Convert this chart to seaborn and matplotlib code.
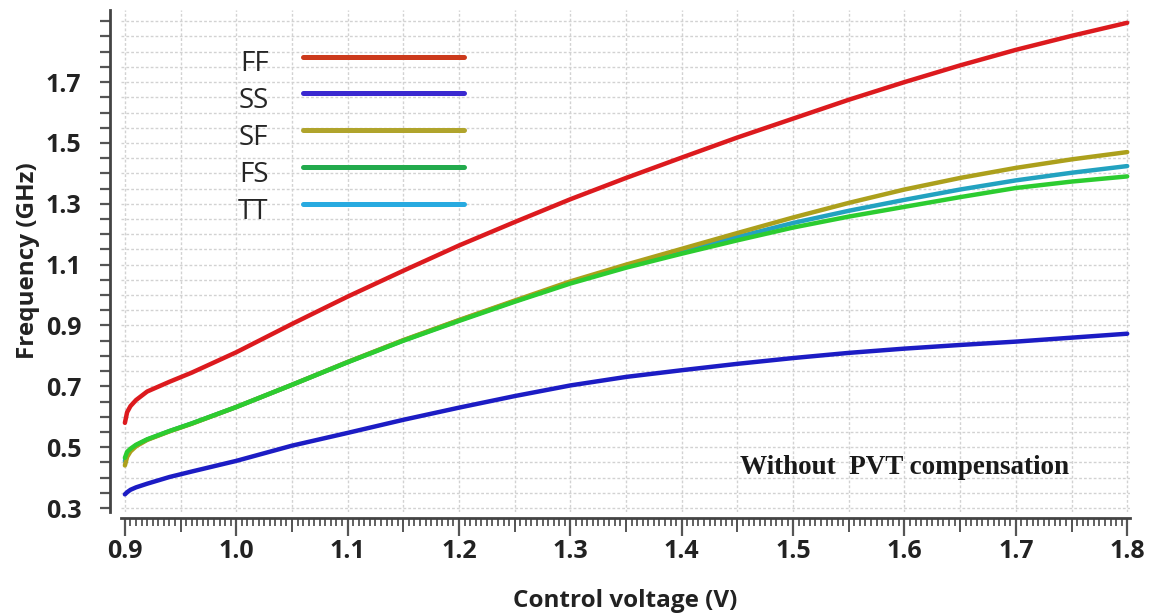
import numpy as np
import pandas as pd
import matplotlib
matplotlib.use("Agg")
import matplotlib.pyplot as plt
import seaborn as sns
from matplotlib.ticker import MultipleLocator, FixedLocator, FormatStrFormatter
from matplotlib.lines import Line2D
from matplotlib.legend_handler import HandlerLine2D

# ---------------- data ----------------
voltage = [0.900, 0.902, 0.905, 0.910, 0.920, 0.940, 0.960, 1.000, 1.050, 1.100,
           1.150, 1.200, 1.250, 1.300, 1.350, 1.400, 1.450, 1.500, 1.550, 1.600,
           1.650, 1.700, 1.750, 1.800]

ff = [0.580, 0.615, 0.635, 0.655, 0.683, 0.715, 0.745, 0.812, 0.905, 0.995,
      1.080, 1.163, 1.240, 1.315, 1.385, 1.452, 1.518, 1.580, 1.642, 1.700,
      1.755, 1.806, 1.852, 1.895]

ss = [0.345, 0.352, 0.360, 0.368, 0.380, 0.402, 0.420, 0.455, 0.505, 0.547,
      0.590, 0.630, 0.668, 0.703, 0.731, 0.753, 0.774, 0.793, 0.810, 0.824,
      0.836, 0.847, 0.860, 0.873]

sf = [0.440, 0.468, 0.486, 0.503, 0.524, 0.552, 0.577, 0.632, 0.705, 0.780,
      0.852, 0.918, 0.982, 1.045, 1.100, 1.152, 1.204, 1.255, 1.303, 1.347,
      1.385, 1.418, 1.446, 1.470]

fs = [0.465, 0.485, 0.495, 0.508, 0.526, 0.553, 0.578, 0.632, 0.705, 0.779,
      0.850, 0.915, 0.978, 1.038, 1.090, 1.136, 1.180, 1.222, 1.258, 1.290,
      1.322, 1.352, 1.373, 1.390]

tt = [0.455, 0.478, 0.491, 0.506, 0.525, 0.553, 0.578, 0.632, 0.705, 0.780,
      0.851, 0.917, 0.980, 1.041, 1.095, 1.144, 1.191, 1.237, 1.277, 1.313,
      1.347, 1.377, 1.402, 1.424]

corners = ["FF", "SS", "SF", "FS", "TT"]
series = {"FF": ff, "SS": ss, "SF": sf, "FS": fs, "TT": tt}
plot_order = ["FF", "SS", "TT", "SF", "FS"]

curve_colors = {"FF": "#dc1a1e", "SS": "#1c1cc4", "SF": "#aca01c",
                "FS": "#2ccc30", "TT": "#22a2c0"}
legend_colors = ["#cc3a1c", "#3a28d0", "#b0a42c", "#22aa4c", "#28aae0"]

x_major_step = 0.1
x_mid_step = 0.05
x_minor_step = 0.005
y_labels = [0.3, 0.5, 0.7, 0.9, 1.1, 1.3, 1.5, 1.7]
y_minor_step = 0.05
annotation = "Without  PVT compensation"

# ---------------- style ----------------
sns.set_style("white")
plt.rcParams["font.family"] = ["Open Sans", "DejaVu Sans"]
plt.rcParams["font.weight"] = "bold"
plt.rcParams["axes.labelweight"] = "bold"

rows = []
for name in corners:
    for v, f in zip(voltage, series[name]):
        rows.append({"voltage": v, "freq": f, "corner": name})
df = pd.DataFrame(rows)

W, H = 1154, 616
fig = plt.figure(figsize=(W / 100, H / 100), dpi=100)
L, R, T, B = 121, 1130, 10, 512
pos = [L / W, (H - B) / H, (R - L) / W, (B - T) / H]
gax = fig.add_axes(pos, zorder=0)
ax = fig.add_axes(pos, zorder=1)
xlim = (0.8965, 1.8025)
ylim = (0.287, 1.937)
for a in (gax, ax):
    a.set_xlim(*xlim)
    a.set_ylim(*ylim)

# ---- background grid axes (also carries the medium x ticks) ----
gax.xaxis.set_major_locator(MultipleLocator(x_mid_step))
gax.yaxis.set_major_locator(MultipleLocator(y_minor_step))
gax.grid(True, color="#d2d2d2", lw=1.0, ls=(0, (2, 1.5)))
for s in gax.spines.values():
    s.set_visible(False)
gax.spines["bottom"].set_position(("outward", 4.5))
gax.tick_params(axis="x", which="major", bottom=True, direction="out",
                length=10, width=1.4, color="#555555", labelbottom=False)
gax.tick_params(axis="y", left=False, labelleft=False)

# ---- main axes ----
ax.patch.set_alpha(0)
sns.lineplot(data=df, x="voltage", y="freq", hue="corner", hue_order=plot_order,
             palette=curve_colors, estimator=None, sort=False, lw=3.2,
             legend=False, ax=ax)

for side in ("top", "right"):
    ax.spines[side].set_visible(False)
ax.spines["bottom"].set_position(("outward", 4.5))
ax.spines["left"].set_position(("outward", 8))
for side in ("bottom", "left"):
    ax.spines[side].set_color("#444444")
    ax.spines[side].set_linewidth(2.0)

ax.xaxis.set_major_locator(MultipleLocator(x_major_step))
ax.xaxis.set_minor_locator(MultipleLocator(x_minor_step))
ax.xaxis.set_major_formatter(FormatStrFormatter("%.1f"))
ax.yaxis.set_major_locator(FixedLocator(y_labels))
ax.yaxis.set_minor_locator(MultipleLocator(y_minor_step))
ax.yaxis.set_major_formatter(FormatStrFormatter("%.1f"))

ax.tick_params(axis="x", which="major", bottom=True, direction="out", length=13,
               width=1.6, color="#555555", pad=2, labelsize=18, labelcolor="#222222")
ax.tick_params(axis="x", which="minor", bottom=True, direction="out", length=5.5,
               width=1.3, color="#555555")
ax.tick_params(axis="y", which="both", left=True, direction="out", length=7.5,
               width=1.6, color="#555555", pad=13, labelsize=18, labelcolor="#222222")

ax.set_xlabel("Control voltage (V)", fontsize=17.5, labelpad=18, color="#222222")
ax.set_ylabel("Frequency (GHz)", fontsize=17.5, labelpad=4, color="#222222")


class RaisedLine(HandlerLine2D):
    """Legend line drawn slightly above the text's centre, as in the reference."""
    def create_artists(self, legend, orig_handle, xdescent, ydescent, width,
                       height, fontsize, trans):
        return super().create_artists(legend, orig_handle, xdescent,
                                      ydescent - 7, width, height, fontsize, trans)


handles = [Line2D([], [], color=c, lw=3.6) for c in legend_colors]
ax.legend(handles, corners, loc="upper left", bbox_to_anchor=(0.116, 0.92),
          markerfirst=False, frameon=False, handlelength=5.8, handletextpad=1.25,
          labelspacing=0.32, borderaxespad=0, borderpad=0,
          handler_map={Line2D: RaisedLine()},
          prop={"family": "Open Sans", "size": 20, "weight": "normal"})

ax.text(1.4526, 0.434, annotation, fontfamily="Liberation Serif",
        fontweight="bold", fontsize=19.5, va="center", ha="left", color="#1a1a1a")

fig.savefig("out.png", dpi=100)
